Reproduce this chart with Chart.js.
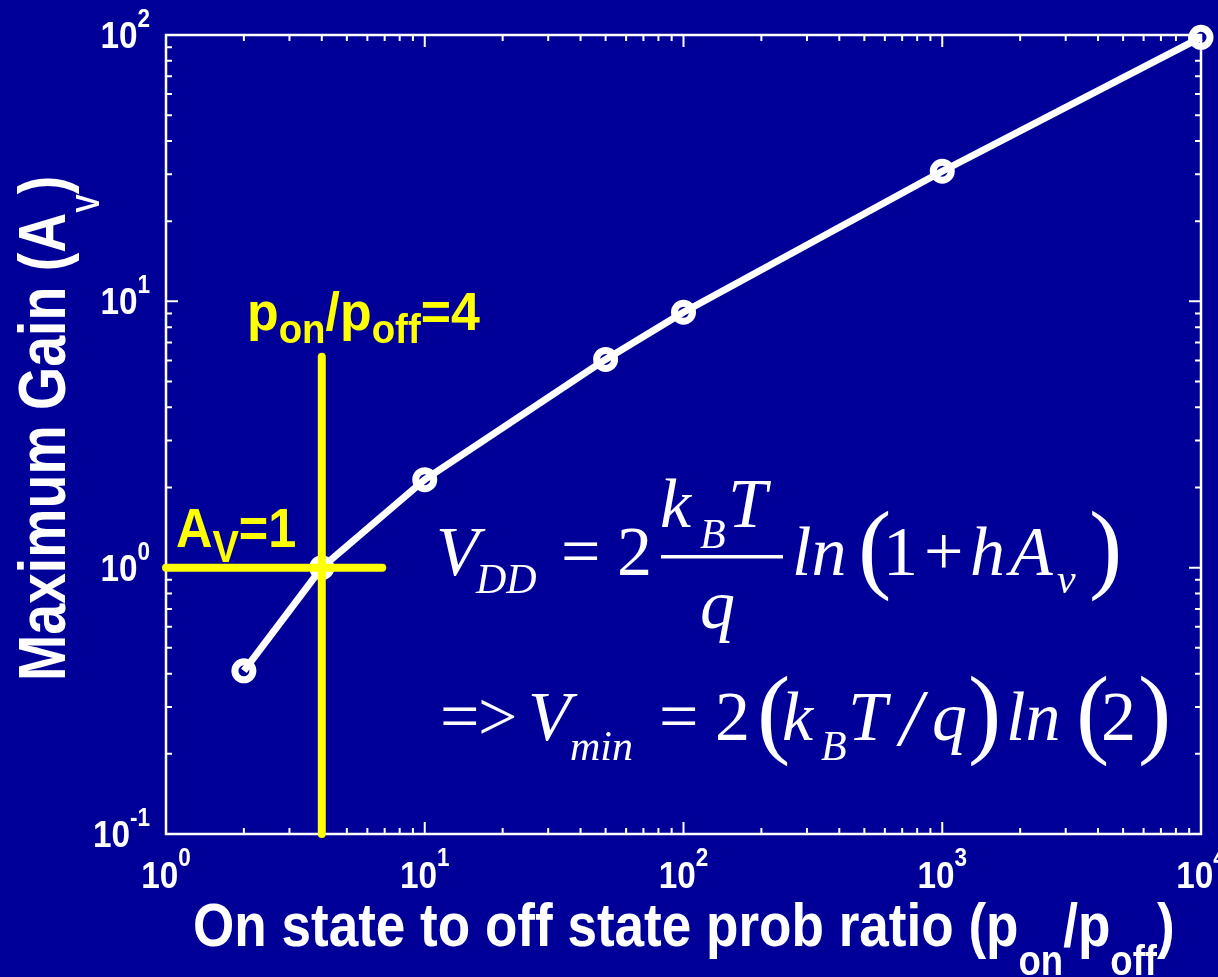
<!DOCTYPE html>
<html>
<head>
<meta charset="utf-8">
<script src="https://cdn.jsdelivr.net/npm/chart.js@4.4.1/dist/chart.umd.min.js"></script>
<style>
  html, body { margin: 0; padding: 0; background: #000099; }
  #wrap { width: 1218px; height: 977px; }
</style>
</head>
<body>
<div id="wrap"><canvas id="gainChart" width="1218" height="977"></canvas></div>
<script>
// on/off probability ratio and the maximum gain reached at that ratio
const ratios = [2, 4, 10, 50, 100, 1000, 10000];
const gains = [0.41, 1.0, 2.14, 6.05, 9.1, 30.8, 98];

// yellow guides through the unity gain point (p_on/p_off = 4, A_v = 1)
const vGuideRatio = [4, 4];
const vGuideGain = [0.1, 6.2];
const hGuideRatio = [1, 6.85];
const hGuideGain = [1, 1];

// decade exponents used for the 10^n tick labels
const xExponents = [0, 1, 2, 3, 4];
const yExponents = [-1, 0, 1, 2];

const SANS = '"Liberation Sans", Arial, sans-serif';
const SERIF = '"Liberation Serif", "Times New Roman", serif';

const toPoints = (xs, ys) => xs.map((v, i) => ({ x: v, y: ys[i] }));

// draws a row of text pieces one after another, squeezed horizontally by sx
function drawRuns(ctx, runs, x, y, sx, align) {
  ctx.save();
  ctx.translate(x, y);
  ctx.scale(sx, 1);
  let total = 0;
  runs.forEach(r => { ctx.font = r.font; total += ctx.measureText(r.text).width; });
  let cx = 0;
  if (align === 'center') cx = -total / 2;
  if (align === 'right') cx = -total;
  ctx.textAlign = 'left';
  ctx.textBaseline = 'alphabetic';
  runs.forEach(r => {
    ctx.font = r.font;
    ctx.fillText(r.text, cx, r.dy || 0);
    cx += ctx.measureText(r.text).width;
  });
  ctx.restore();
}

function decadeTicks(exps) {
  const out = [];
  for (let i = 0; i < exps.length - 1; i++) {
    for (let m = 1; m < 10; m++) out.push({ v: m * Math.pow(10, exps[i]), major: m === 1 });
  }
  out.push({ v: Math.pow(10, exps[exps.length - 1]), major: true });
  return out;
}

// box around the plot with inward ticks on all four sides
const frameTicks = {
  id: 'frameTicks',
  beforeDatasetsDraw(chart) {
    const { ctx, chartArea: a, scales: { x, y } } = chart;
    ctx.save();
    ctx.strokeStyle = '#ffffff';
    ctx.lineWidth = 2.5;
    ctx.strokeRect(a.left, a.top, a.right - a.left, a.bottom - a.top);
    ctx.lineWidth = 2;
    ctx.beginPath();
    decadeTicks(xExponents).forEach(t => {
      const px = x.getPixelForValue(t.v);
      const len = t.major ? 12 : 6;
      ctx.moveTo(px, a.bottom); ctx.lineTo(px, a.bottom - len);
      ctx.moveTo(px, a.top); ctx.lineTo(px, a.top + len);
    });
    decadeTicks(yExponents).forEach(t => {
      const py = y.getPixelForValue(t.v);
      const len = t.major ? 12 : 6;
      ctx.moveTo(a.left, py); ctx.lineTo(a.left + len, py);
      ctx.moveTo(a.right, py); ctx.lineTo(a.right - len, py);
    });
    ctx.stroke();
    ctx.restore();
  }
};

// tick labels, axis titles, guide labels and the supply voltage formulas
const textLayer = {
  id: 'textLayer',
  afterDatasetsDraw(chart) {
    const { ctx, chartArea: a, scales: { x, y } } = chart;
    const big = 'bold 37px ' + SANS;
    const sup = 'bold 25px ' + SANS;
    ctx.save();
    ctx.fillStyle = '#ffffff';

    xExponents.forEach(e => {
      const px = x.getPixelForValue(Math.pow(10, e));
      drawRuns(ctx, [{ text: '10', font: big }, { text: String(e), font: sup, dy: -22 }], px, a.bottom + 54, 0.9, 'center');
    });
    yExponents.forEach(e => {
      const py = y.getPixelForValue(Math.pow(10, e));
      drawRuns(ctx, [{ text: '10', font: big }, { text: e < 0 ? '-' + Math.abs(e) : String(e), font: sup, dy: -21 }], 150, py + 13, 0.9, 'right');
    });

    // x axis title
    drawRuns(ctx, [
      { text: 'On state to off state prob ratio (p', font: 'bold 61px ' + SANS },
      { text: 'on', font: 'bold 42px ' + SANS, dy: 29 },
      { text: '/p', font: 'bold 61px ' + SANS },
      { text: 'off', font: 'bold 42px ' + SANS, dy: 29 },
      { text: ')', font: 'bold 61px ' + SANS }
    ], 193, 946, 0.87);

    // y axis title, reading upwards
    ctx.save();
    ctx.translate(65, 681);
    ctx.rotate(-Math.PI / 2);
    drawRuns(ctx, [
      { text: 'Maximum Gain (A', font: 'bold 66px ' + SANS },
      { text: 'V', font: 'bold 33px ' + SANS, dy: 34 },
      { text: ')', font: 'bold 66px ' + SANS }
    ], 0, 0, 0.84);
    ctx.restore();

    // guide labels
    ctx.fillStyle = '#ffff00';
    drawRuns(ctx, [
      { text: 'p', font: 'bold 54px ' + SANS },
      { text: 'on', font: 'bold 40px ' + SANS, dy: 13 },
      { text: '/p', font: 'bold 54px ' + SANS },
      { text: 'off', font: 'bold 40px ' + SANS, dy: 13 },
      { text: '=4', font: 'bold 54px ' + SANS }
    ], 247, 330, 0.96);
    drawRuns(ctx, [
      { text: 'A', font: 'bold 56px ' + SANS },
      { text: 'V', font: 'bold 44px ' + SANS, dy: 15 },
      { text: '=1', font: 'bold 56px ' + SANS }
    ], 176, 547, 0.9);

    // formulas
    ctx.fillStyle = '#ffffff';
    const it = 'italic 70px ' + SERIF;
    const itSub = 'italic 42px ' + SERIF;
    const rm = '70px ' + SERIF;
    const paren = '100px ' + SERIF;
    const pieces = [
      ['V', 436, 575, it], ['DD', 476, 593, itSub], ['=', 561, 575, rm], ['2', 617, 575, rm],
      ['k', 660, 527, it], ['B', 700, 548, itSub], ['T', 728, 527, it], ['q', 700, 628, it],
      ['ln', 792, 575, it], ['(', 858, 580, paren], ['1', 883, 575, rm], ['+', 924, 575, rm],
      ['h', 970, 575, it], ['A', 1010, 575, it], ['v', 1057, 593, itSub], [')', 1089, 580, paren],
      ['=', 440, 740, rm], ['>', 478, 740, rm], ['V', 528, 740, it], ['min', 570, 760, itSub],
      ['=', 659, 740, rm], ['2', 715, 740, rm], ['(', 757, 745, paren], ['k', 782, 740, it],
      ['B', 821, 760, itSub], ['T', 848, 740, it], ['/', 900, 745, 'italic 80px ' + SERIF],
      ['q', 932, 740, it], [')', 968, 745, paren], ['ln', 1006, 740, it], ['(', 1076, 745, paren],
      ['2', 1101, 740, rm], [')', 1138, 745, paren]
    ];
    ctx.textAlign = 'left';
    ctx.textBaseline = 'alphabetic';
    pieces.forEach(([t, px, py, f]) => { ctx.font = f; ctx.fillText(t, px, py); });
    // fraction bar of k_B T / q
    ctx.fillRect(661, 555, 122, 3.5);
    ctx.restore();
  }
};

function buildChart() {
  new Chart(document.getElementById('gainChart'), {
    type: 'line',
    data: {
      datasets: [
        {
          data: toPoints(vGuideRatio, vGuideGain),
          borderColor: '#ffff00', borderWidth: 8, borderCapStyle: 'round',
          pointRadius: 0, order: 0, clip: false
        },
        {
          data: toPoints(hGuideRatio, hGuideGain),
          borderColor: '#ffff00', borderWidth: 8, borderCapStyle: 'round',
          pointRadius: 0, order: 0, clip: false
        },
        {
          data: toPoints(ratios, gains),
          borderColor: '#ffffff', borderWidth: 7, borderJoinStyle: 'round',
          pointRadius: 9, pointBorderWidth: 7, pointBorderColor: '#ffffff',
          pointBackgroundColor: 'rgba(0,0,0,0)', order: 1, clip: false
        }
      ]
    },
    options: {
      responsive: false,
      animation: false,
      devicePixelRatio: 1,
      events: [],
      layout: { padding: { left: 166, top: 35, right: 17, bottom: 143 } },
      plugins: { legend: { display: false }, tooltip: { enabled: false } },
      scales: {
        x: { type: 'logarithmic', min: 1, max: 10000, display: false },
        y: { type: 'logarithmic', min: 0.1, max: 100, display: false }
      }
    },
    plugins: [frameTicks, textLayer]
  });
}

// make sure the canvas fonts are ready before drawing
Promise.all([
  document.fonts.load('bold 40px "Liberation Sans"'),
  document.fonts.load('italic 70px "Liberation Serif"'),
  document.fonts.load('70px "Liberation Serif"')
]).then(buildChart, buildChart);
</script>
</body>
</html>
